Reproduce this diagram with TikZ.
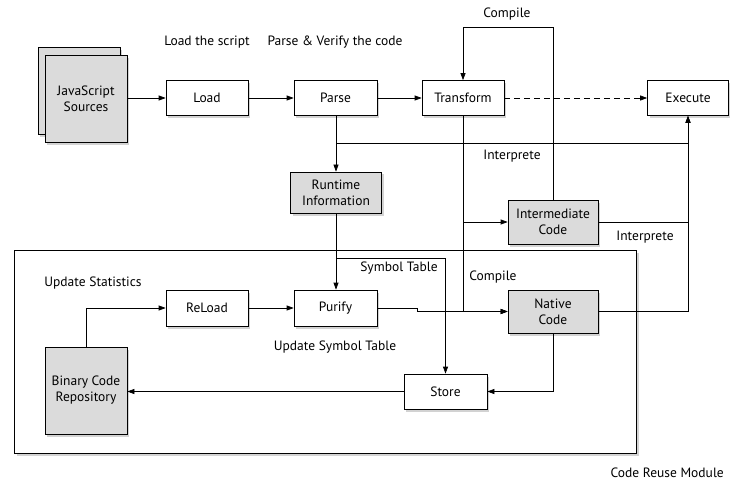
\documentclass[tikz,border=0pt]{standalone}
\usepackage{fontspec}
\setmainfont{PT Sans}
\usetikzlibrary{positioning,arrows.meta,shadows}

\tikzset{
  box/.style={draw, fill=white, minimum width=82pt, minimum height=35pt, align=center,
              inner sep=1pt, line width=0.7pt, drop shadow={opacity=0.35, shadow xshift=2pt, shadow yshift=-2.5pt}},
  greybox/.style={box, fill=gray!28},
  lbl/.style={inner sep=1pt},
  arr/.style={line width=0.7pt, -{Triangle[length=7pt,width=5pt]}},
  ln/.style={line width=0.7pt}
}

\begin{document}
\begin{tikzpicture}[x=1pt,y=-1pt,font=\fontsize{13.5}{16}\selectfont]
  \useasboundingbox (0,0) rectangle (730,481);

  % code reuse module frame
  \draw[ln, fill=white, drop shadow={opacity=0.35, shadow xshift=2.5pt, shadow yshift=-3pt}] (14,250) rectangle (636,453);
  \node[lbl, anchor=east] (modlbl) at (725,473) {Code Reuse Module};

  % top row
  \node[greybox, minimum height=87pt] (jsback) at (79,91) {};
  \node[greybox, minimum height=87pt] (js) at (86,99) {JavaScript\\Sources};
  \node[box] (load) at (207,98) {Load};
  \node[box, minimum width=83pt] (parse) at (335.5,98) {Parse};
  \node[box] (trans) at (463,98) {Transform};
  \node[box, minimum width=81pt] (exec) at (688,98) {Execute};

  % middle
  \node[greybox, minimum width=91pt, minimum height=41pt] (rtinfo) at (336,192.5) {Runtime\\Information};
  \node[greybox, minimum width=90pt, minimum height=44pt] (inter) at (553,222) {Intermediate\\Code};

  % inside the module
  \node[box, minimum height=36pt] (reload) at (207,308) {ReLoad};
  \node[box, minimum width=83pt, minimum height=36pt] (purify) at (335.5,308) {Purify};
  \node[greybox, minimum width=90pt, minimum height=43pt] (native) at (553,311.5) {Native\\Code};
  \node[box, minimum width=83pt] (store) at (445.5,391.5) {Store};
  \node[greybox, minimum height=87pt] (bin) at (86,390.5) {Binary Code\\Repository};

  % labels
  \node[lbl] (lscript) at (207,42) {Load the script};
  \node[lbl] (lparse) at (335,42) {Parse \& Verify the code};
  \node[lbl] (lcomp1) at (507,14) {Compile};
  \node[lbl] (linterp1) at (512,156) {Interprete};
  \node[lbl] (linterp2) at (645,237) {Interprete};
  \node[lbl] (lsym) at (399,268) {Symbol Table};
  \node[lbl] (lcomp2) at (493,277) {Compile};
  \node[lbl] (lstat) at (93,283) {Update Statistics};
  \node[lbl] (lupd) at (335,347) {Update Symbol Table};

  \coordinate (ctop) at (553,27);
  \coordinate (ibranch) at (336,143);
  \coordinate (sbranch) at (336,258);

  % connectors
  \draw[arr] (js.east |- load.west) -- (load.west);
  \draw[arr] (load) -- (parse);
  \draw[arr] (parse) -- (trans);
  \draw[arr, dashed, dash pattern=on 6pt off 4pt] (trans) -- (exec);
  \draw[arr] (inter.north) -- (ctop) -| (trans.north);
  \draw[arr] (parse.south -| rtinfo.north) -- (rtinfo.north);
  \draw[arr] (ibranch) -| (exec.south);
  \draw[arr] (trans.south) |- (native.west);
  \draw[arr] (trans.south |- inter.west) -- (inter.west);
  \draw[ln] (inter.east) -- (inter.east -| exec.south);
  \draw[arr] (native.east) -| (exec.south);
  \draw[arr] (rtinfo.south) -- (purify.north -| rtinfo.south);
  \draw[arr] (sbranch) -| (store.north);
  \draw[arr] (purify.east) -- ++(40,0) |- (native.west);
  \draw[arr] (native.south) |- (store.east);
  \draw[arr] (store.west) -- (bin.east |- store.west);
  \draw[arr] (bin.north) |- (reload.west);
  \draw[arr] (reload) -- (purify);
\end{tikzpicture}
\end{document}
